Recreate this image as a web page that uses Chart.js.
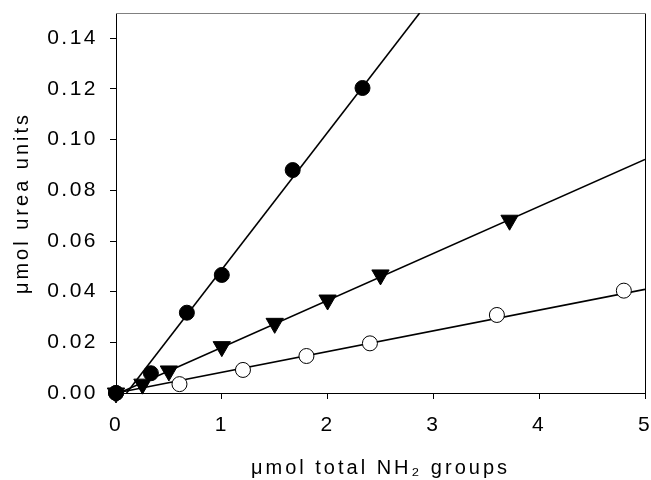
<!DOCTYPE html>
<html>
<head>
<meta charset="utf-8">
<script src="https://cdn.jsdelivr.net/npm/chart.js@4.4.0/dist/chart.umd.min.js"></script>
<style>
  html, body { margin: 0; padding: 0; background: #fff; }
  #chart { display: block; }
</style>
</head>
<body>
<canvas id="chart" width="651" height="480"></canvas>
<script>
// filled circles
const filledX = [0, 0.33, 0.67, 1.0, 1.67, 2.33];
const filledY = [0, 0.0078, 0.0317, 0.0466, 0.088, 0.1204];
// filled down-triangles
const triX = [0, 0.25, 0.5, 1.0, 1.5, 2.0, 2.5, 3.72];
const triY = [0, 0.0035, 0.0087, 0.0183, 0.0275, 0.0367, 0.0466, 0.0682];
// open circles
const openX = [0, 0.6, 1.2, 1.8, 2.4, 3.6, 4.8];
const openY = [0, 0.0035, 0.0091, 0.0146, 0.0196, 0.0308, 0.0404];

// regression lines (end points)
const filledFitX = [0.1, 2.87];
const filledFitY = [0, 0.15];
const triFitX = [0.03, 5];
const triFitY = [0, 0.0922];
const openFitX = [0, 5];
const openFitY = [0, 0.0409];

// axes
const xTicks = [0, 1, 2, 3, 4, 5];
const yTicks = [0, 0.02, 0.04, 0.06, 0.08, 0.10, 0.12, 0.14];
const xTitle = "\u03bcmol total NH\u2082 groups";
const yTitle = "\u03bcmol urea units";

const pts = (xs, ys) => xs.map((x, i) => ({ x: x, y: ys[i] }));

// the original text is drawn with loose letter spacing (titles a bit looser)
const spacing = {
  id: "spacing",
  beforeLayout(chart) { chart.ctx.letterSpacing = "2.5px"; },
  beforeDraw(chart) {
    chart.ctx.letterSpacing = "2.5px";
    Object.values(chart.scales).forEach((s) => {
      if (s._wideTitle) return;
      const orig = s.drawTitle;
      s.drawTitle = function () {
        this.ctx.save();
        this.ctx.letterSpacing = "3px";
        orig.apply(this, arguments);
        this.ctx.restore();
      };
      s._wideTitle = true;
    });
  }
};

// top (grey) and right (black) frame lines
const frame = {
  id: "frame",
  beforeDatasetsDraw(chart) {
    const { ctx, chartArea: a } = chart;
    ctx.save();
    ctx.lineWidth = 1;
    ctx.strokeStyle = "#808080";
    ctx.beginPath();
    ctx.moveTo(a.left, a.top + 0.5);
    ctx.lineTo(a.right + 1, a.top + 0.5);
    ctx.stroke();
    ctx.strokeStyle = "#000";
    ctx.beginPath();
    ctx.moveTo(a.right + 0.5, a.top + 1);
    ctx.lineTo(a.right + 0.5, a.bottom);
    ctx.stroke();
    ctx.restore();
  }
};

const marker = (data, style, radius, fill) => ({
  data: data,
  pointStyle: style,
  pointRadius: radius,
  pointRotation: style === "triangle" ? 180 : 0,
  backgroundColor: fill,
  borderColor: "#000",
  borderWidth: 1,
  showLine: false,
  clip: false,
  order: 1
});

const fitLine = (data) => ({
  data: data,
  showLine: true,
  pointRadius: 0,
  borderColor: "#000",
  borderWidth: 1.6,
  order: 2
});

const tickFont = { family: "'Liberation Sans', Arial, sans-serif", size: 21 };
const titleFont = { family: "'Liberation Sans', Arial, sans-serif", size: 20 };

new Chart(document.getElementById("chart"), {
  type: "scatter",
  data: {
    datasets: [
      marker(pts(filledX, filledY), "circle", 7.5, "#000"),
      marker(pts(triX, triY), "triangle", 10, "#000"),
      marker(pts(openX, openY), "circle", 7.5, "#fff"),
      fitLine(pts(filledFitX, filledFitY)),
      fitLine(pts(triFitX, triFitY)),
      fitLine(pts(openFitX, openFitY))
    ]
  },
  options: {
    responsive: false,
    animation: false,
    devicePixelRatio: 1,
    layout: { autoPadding: false, padding: { left: 0, right: 6, top: 13, bottom: 0 } },
    plugins: { legend: { display: false }, tooltip: { enabled: false } },
    scales: {
      x: {
        type: "linear",
        min: 0,
        max: 5,
        afterBuildTicks: (s) => { s.ticks = xTicks.map((v) => ({ value: v })); },
        afterFit: (s) => {
          s.height = 87;
          s.paddingLeft = 0;
          s.paddingRight = 0;
        },
        grid: { drawOnChartArea: false, tickLength: 6, color: "#000" },
        border: { color: "#000", width: 1 },
        ticks: {
          color: "#000",
          font: tickFont,
          padding: 14,
          maxRotation: 0,
          callback: (v) => String(v)
        },
        title: {
          display: true,
          text: xTitle,
          color: "#000",
          font: titleFont,
          padding: { top: 3, bottom: 0 }
        }
      },
      y: {
        type: "linear",
        min: 0,
        max: 0.15,
        afterBuildTicks: (s) => { s.ticks = yTicks.map((v) => ({ value: v })); },
        afterFit: (s) => {
          s.width = 116;
          s.paddingTop = 0;
          s.paddingBottom = 0;
        },
        grid: { drawOnChartArea: false, tickLength: 6, color: "#000" },
        border: { color: "#000", width: 1 },
        ticks: {
          color: "#000",
          font: tickFont,
          padding: 12,
          callback: (v) => Number(v).toFixed(2)
        },
        title: {
          display: true,
          text: yTitle,
          color: "#000",
          font: titleFont,
          padding: { top: 10, bottom: 0 }
        }
      }
    }
  },
  plugins: [spacing, frame]
});
</script>
</body>
</html>
